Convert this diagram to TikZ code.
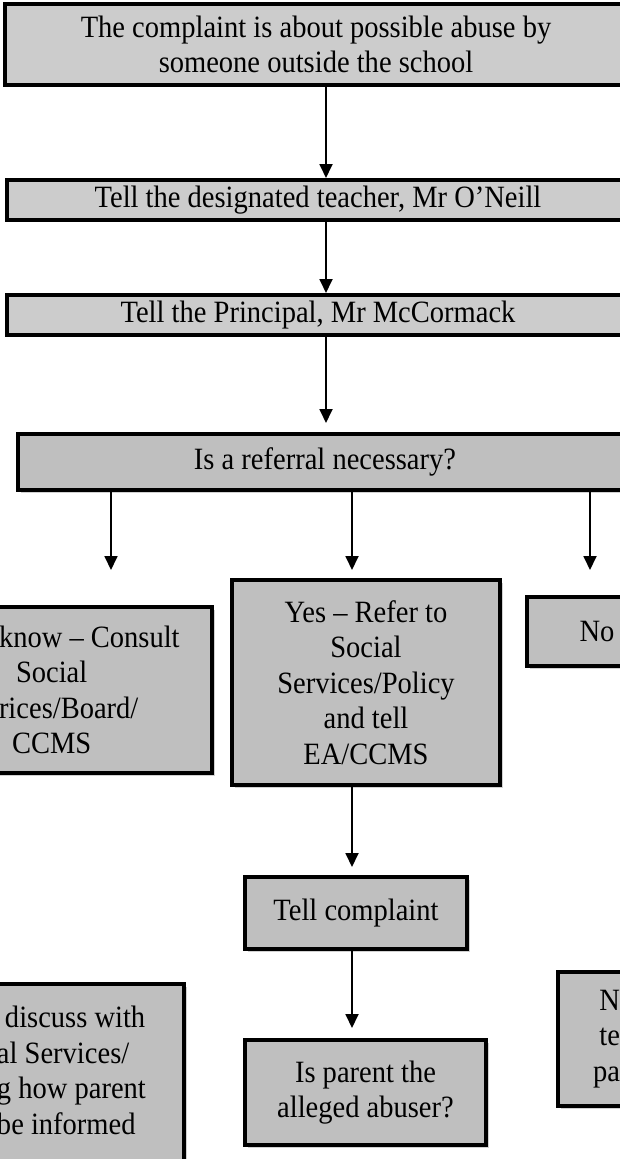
\documentclass[tikz,border=0pt]{standalone}
\usepackage{fontspec}
\setmainfont{Liberation Serif}[FakeStretch=0.92]
\usetikzlibrary{arrows.meta,shadows}
\begin{document}
\begin{tikzpicture}[x=1pt, y=-1pt,
    font=\fontsize{31}{35.5}\selectfont,
    topbox/.style={draw, line width=4pt, fill=black!20, align=center,
        minimum width=622pt, inner sep=0pt},
    flowbox/.style={draw, line width=4pt, fill=black!25, align=center, inner sep=0pt,
        drop shadow={shadow xshift=3pt, shadow yshift=-3pt, fill=black!18, opacity=1}},
    flow/.style={-{Triangle[width=13pt,length=14pt]}, line width=1.8pt}]
    \useasboundingbox (0,0) rectangle (620,1159);
    \clip (0,0) rectangle (620,1159);
    \fill[white] (0,0) rectangle (620,1159);

    \coordinate (spine) at (326,0);
    \coordinate (mid) at (352,0);
    \coordinate (tipA) at (111,570);
    \coordinate (tipB) at (352,570);
    \coordinate (tipC) at (590,570);

    \node[topbox, minimum height=81pt] (complaint) at (316,44.5)
        {The complaint is about possible abuse by\\someone outside the school};
    \node[topbox, minimum height=40pt] (teacher) at (318,200)
        {Tell the designated teacher, Mr O'Neill};
    \node[topbox, minimum height=40pt] (principal) at (318,315)
        {Tell the Principal, Mr McCormack};
    \node[flowbox, minimum width=614pt, minimum height=56pt] (referral) at (325,462)
        {Is a referral necessary?};

    \node[flowbox, text width=190pt, align=flush left, inner xsep=23pt, minimum height=166pt]
        (unsure) at (94,690)
        {know – Consult\\\hspace*{17pt}Social\\rices/Board/\\\hspace*{13pt}CCMS};
    \node[flowbox, minimum width=268pt, minimum height=205pt] (refer) at (366,682.5)
        {Yes – Refer to\\Social\\Services/Policy\\and tell\\EA/CCMS};
    \node[flowbox, minimum width=140pt, minimum height=69pt] (nobox) at (597,631.5) {No};

    \node[flowbox, minimum width=222pt, minimum height=72pt] (tell) at (356,913)
        {Tell complaint};
    \node[flowbox, minimum width=241pt, minimum height=105pt] (parent) at (365.5,1092.5)
        {Is parent the\\alleged abuser?};
    \node[flowbox, anchor=north, text width=160pt, align=flush left, inner xsep=27pt,
        inner ysep=22pt, text depth=230pt] (discuss) at (77,982)
        {\hspace*{8pt}discuss with\\al Services/\\g how parent\\be informed};
    \node[flowbox, text width=40pt, align=flush right, inner xsep=22pt, minimum height=134pt]
        (notell) at (600,1039) {N\\te\\pa};

    \draw[flow] (complaint.south -| spine) -- (teacher.north -| spine);
    \draw[flow] (teacher.south -| spine) -- (principal.north -| spine);
    \draw[flow, shorten >=9pt] (principal.south -| spine) -- (referral.north -| spine);
    \draw[flow] (referral.south -| tipA) -- (tipA);
    \draw[flow] (referral.south -| tipB) -- (tipB);
    \draw[flow] (referral.south -| tipC) -- (tipC);
    \draw[flow, shorten >=8pt] (refer.south -| mid) -- (tell.north -| mid);
    \draw[flow, shorten >=10pt] (tell.south -| mid) -- (parent.north -| mid);
\end{tikzpicture}
\end{document}
